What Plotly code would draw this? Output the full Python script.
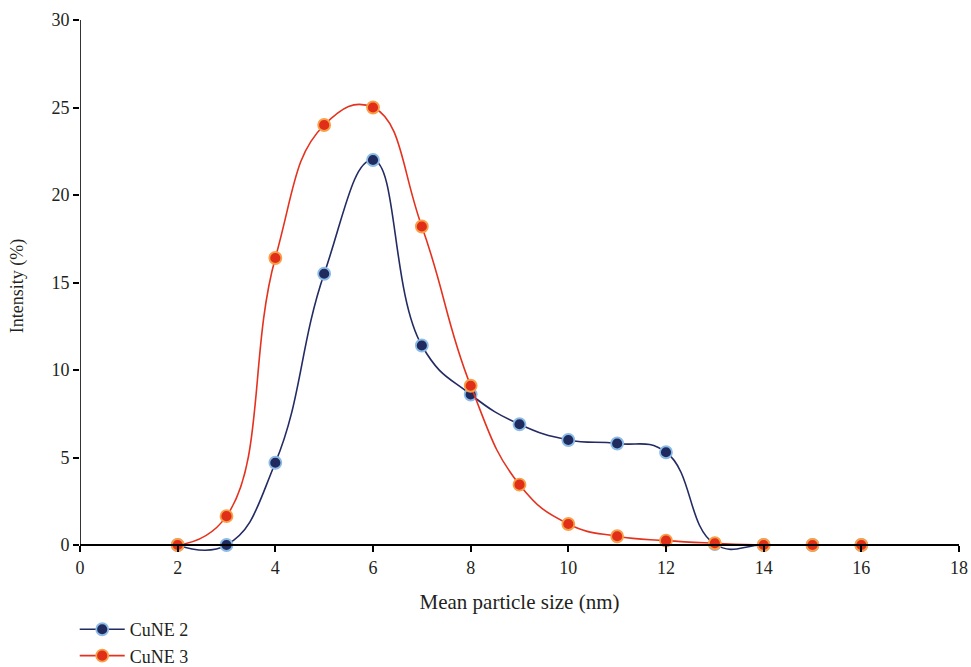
import plotly.graph_objects as go

sizes = [2, 3, 4, 5, 6, 7, 8, 9, 10, 11, 12, 13, 14, 15, 16]
cune2 = [0, 0, 4.7, 15.5, 22.0, 11.4, 8.6, 6.9, 6.0, 5.8, 5.3, 0.05, 0, 0, 0]
cune3 = [0, 1.65, 16.4, 24.0, 25.0, 18.2, 9.1, 3.45, 1.2, 0.5, 0.25, 0.1, 0, 0, 0]

x_ticks = list(range(0, 19, 2))
y_ticks = list(range(0, 31, 5))

font = "Liberation Serif, Times New Roman, serif"

fig = go.Figure()
fig.add_trace(go.Scatter(
    x=sizes, y=cune2, name="CuNE 2", mode="lines+markers",
    line=dict(color="#232b63", width=1.6, shape="spline", smoothing=1.3),
    marker=dict(size=12, color="#1f2a5e", line=dict(color="#8cbbe6", width=1.8)),
))
fig.add_trace(go.Scatter(
    x=sizes, y=cune3, name="CuNE 3", mode="lines+markers",
    line=dict(color="#e5321f", width=1.6, shape="spline", smoothing=1.3),
    marker=dict(size=12, color="#e02e18", line=dict(color="#f7a048", width=1.8)),
))

ymin = -0.4
fig.update_layout(
    width=971, height=667,
    margin=dict(l=80, r=12, t=20, b=115, autoexpand=False),
    plot_bgcolor="white", paper_bgcolor="white",
    font=dict(family=font, size=18, color="#231f20"),
    xaxis=dict(
        range=[0, 18], tickvals=x_ticks, showgrid=False, zeroline=False,
        showline=True, linecolor="black", linewidth=2, automargin=False,
        ticks="outside", ticklen=6, tickwidth=1.5, tickcolor="black",
        anchor="free", position=(0 - ymin) / (30 - ymin),
        tickfont=dict(size=18),
        title=dict(text="Mean particle size (nm)", font=dict(size=21), standoff=17),
    ),
    yaxis=dict(
        range=[ymin, 30], tickvals=y_ticks, showgrid=False, zeroline=False,
        showline=False, automargin=False,
        ticks="outside", ticklen=6, tickwidth=1.5, tickcolor="black",
        tickfont=dict(size=18),
        title=dict(text="Intensity (%)", font=dict(size=18), standoff=23),
    ),
    shapes=[dict(type="line", xref="x", yref="y", x0=0, x1=0, y0=0, y1=30,
                 line=dict(color="black", width=1.6))],
    legend=dict(x=-0.006, y=-0.111, xanchor="left", yanchor="top",
                font=dict(size=18), tracegroupgap=0, itemwidth=45,
                bgcolor="rgba(0,0,0,0)"),
    showlegend=True,
)

fig.write_html("out.html",
               config={"displayModeBar": False},
               post_script="document.body.style.margin='0px';document.body.style.overflow='hidden';")
